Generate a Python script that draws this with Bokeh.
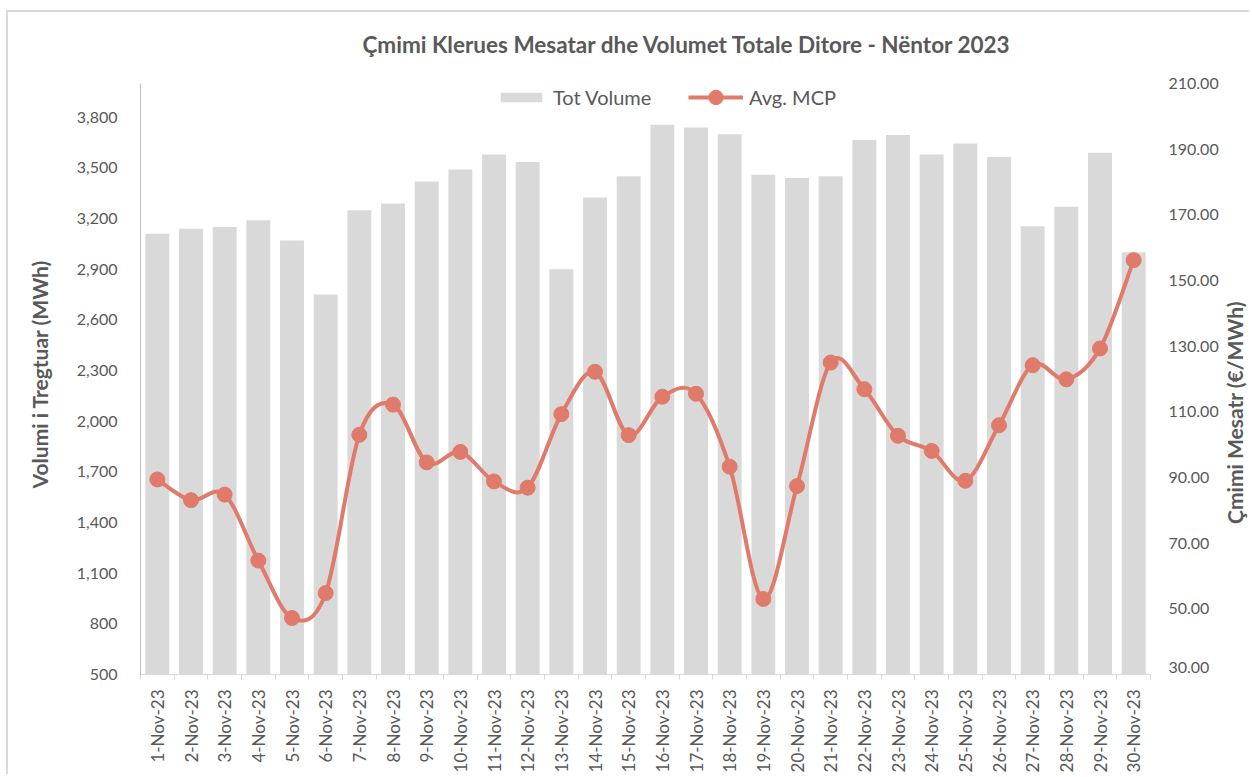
import numpy as np
from bokeh.plotting import figure
from bokeh.models import (Range1d, FixedTicker, Legend, LegendItem,
                          NumeralTickFormatter, Label)
from bokeh.embed import file_html
from bokeh.resources import INLINE

dates = ["1-Nov-23", "2-Nov-23", "3-Nov-23", "4-Nov-23", "5-Nov-23", "6-Nov-23",
         "7-Nov-23", "8-Nov-23", "9-Nov-23", "10-Nov-23", "11-Nov-23", "12-Nov-23",
         "13-Nov-23", "14-Nov-23", "15-Nov-23", "16-Nov-23", "17-Nov-23", "18-Nov-23",
         "19-Nov-23", "20-Nov-23", "21-Nov-23", "22-Nov-23", "23-Nov-23", "24-Nov-23",
         "25-Nov-23", "26-Nov-23", "27-Nov-23", "28-Nov-23", "29-Nov-23", "30-Nov-23"]
volume = [3110, 3140, 3150, 3190, 3070, 2750, 3250, 3290, 3420, 3490,
          3580, 3535, 2900, 3325, 3450, 3755, 3740, 3700, 3460, 3440,
          3450, 3665, 3695, 3580, 3645, 3565, 3155, 3270, 3590, 3000]
price = [89.4, 83.1, 84.8, 64.7, 47.2, 54.8, 103.0, 112.2, 94.6, 97.8,
         88.8, 86.9, 109.3, 122.2, 102.9, 114.6, 115.5, 93.3, 53.0, 87.4,
         125.0, 116.9, 102.7, 98.1, 89.0, 105.9, 124.2, 119.9, 129.3, 156.2]
left_ticks = [500, 800, 1100, 1400, 1700, 2000, 2300, 2600, 2900, 3200, 3500, 3800]
right_ticks = [30, 50, 70, 90, 110, 130, 150, 170, 190, 210]
right_labels = ["30.00", "50.00", "70.00", "90.00", "110.00", "130.00", "150.00",
                "170.00", "190.00", "210.00"]
vol_axis = (500, 4000)
price_axis = (30, 210)

FONT = "Lato"
TXT = "#595959"
BAR = "#d9d9d9"
LINE = "#e07b6b"

n = len(dates)
xs = np.arange(1, n + 1, dtype=float)
pr = np.array(price, dtype=float)

# Catmull-Rom style smoothing (Excel "smoothed line") as bezier segments
pp = np.concatenate([[pr[0]], pr, [pr[-1]]])
xp = np.concatenate([[xs[0]], xs, [xs[-1]]])
x0 = xs[:-1]; y0 = pr[:-1]
x1 = xs[1:]; y1 = pr[1:]
cx0 = xp[1:-2] + (xp[2:-1] - xp[0:-3]) / 6.0
cy0 = pp[1:-2] + (pp[2:-1] - pp[0:-3]) / 6.0
cx1 = xp[2:-1] - (xp[3:] - xp[1:-2]) / 6.0
cy1 = pp[2:-1] - (pp[3:] - pp[1:-2]) / 6.0

# layout: the frame runs to the right edge so the right-hand texts can live in it
W, H = 1243, 764
BL, BR, BT, BB = 132, 0, 61, 102
FW, FH = W - BL - BR, H - BT - BB
axis_px_w = 1010      # width of the category area in px
axis_px_h = 591       # height of the value axes in px
x_end = 0.5 + n * FW / axis_px_w
vol_top = vol_axis[0] + (vol_axis[1] - vol_axis[0]) * FH / axis_px_h
pr_top = price_axis[0] + (price_axis[1] - price_axis[0]) * FH / axis_px_h

p = figure(width=W, height=H, x_range=Range1d(0.5, x_end),
           y_range=Range1d(vol_axis[0], vol_top), output_backend="svg",
           toolbar_location=None,
           min_border_left=BL, min_border_right=BR, min_border_top=BT,
           min_border_bottom=BB)
p.styles = {"border-left": "2px solid #d9d9d9", "border-top": "2px solid #d9d9d9",
            "margin-left": "6px", "margin-top": "10px"}
p.extra_y_ranges = {"price": Range1d(price_axis[0], pr_top)}
p.outline_line_color = None
p.xgrid.grid_line_color = None
p.ygrid.grid_line_color = None
p.background_fill_color = "white"

bars = p.vbar(x=xs, top=volume, bottom=vol_axis[0], width=0.71, fill_color=BAR,
              line_color=None)
curve = p.bezier(x0=x0, y0=y0, x1=x1, y1=y1, cx0=cx0, cy0=cy0, cx1=cx1, cy1=cy1,
                 line_color=LINE, line_width=4, y_range_name="price")
dots = p.scatter(x=xs, y=price, size=15, fill_color=LINE, line_color=LINE,
                 y_range_name="price")

# Title
p.title.text = "Çmimi Klerues Mesatar dhe Volumet Totale Ditore - Nëntor 2023"
p.title.align = "left"
p.title.offset = 222
p.title.text_font = FONT
p.title.text_font_size = "22.5px"
p.title.text_font_style = "bold"
p.title.text_color = TXT
p.title.standoff = 32

# x axis
xa = p.xaxis[0]
xa.bounds = (0.5, n + 0.5)
xa.ticker = FixedTicker(ticks=list(xs), minor_ticks=list(np.arange(0.5, n + 1, 1.0)))
xa.major_label_overrides = {int(v): d for v, d in zip(xs, dates)}
xa.major_label_overrides.update({float(v): d for v, d in zip(xs, dates)})
xa.major_label_orientation = np.pi / 2
xa.major_tick_line_color = None
xa.major_tick_out = 0
xa.minor_tick_line_color = BAR
xa.minor_tick_out = 5
xa.minor_tick_in = 0
xa.axis_line_color = BAR
xa.major_label_standoff = 10
xa.major_label_text_font = FONT
xa.major_label_text_font_size = "17px"
xa.major_label_text_color = TXT

# left axis
ya = p.yaxis[0]
ya.bounds = vol_axis
ya.ticker = FixedTicker(ticks=left_ticks)
ya.formatter = NumeralTickFormatter(format="0,0")
ya.major_tick_line_color = None
ya.minor_tick_line_color = None
ya.major_tick_out = 0
ya.axis_line_color = "#bfbfbf"
ya.major_label_standoff = 23
ya.major_label_text_font = FONT
ya.major_label_text_font_size = "16px"
ya.major_label_text_color = TXT
ya.axis_label = "Volumi i Tregtuar (MWh)"
ya.axis_label_text_font = FONT
ya.axis_label_text_font_size = "21px"
ya.axis_label_text_font_style = "bold"
ya.axis_label_text_color = TXT
ya.axis_label_standoff = 22

# right value labels, drawn on the price scale
p.text(x=[n + 0.5] * (len(right_ticks) - 1), y=right_ticks[1:], text=right_labels[1:],
       x_offset=18, y_range_name="price", text_align="left",
       text_baseline="middle", text_font={"value": FONT},
       text_font_size="16px", text_color=TXT)
# lowest label sits on the bottom edge of the frame: keep it fully visible
p.text(x=[n + 0.5], y=right_ticks[:1], text=right_labels[:1],
       x_offset=18, y_offset=-2, y_range_name="price", text_align="left",
       text_baseline="bottom", text_font={"value": FONT},
       text_font_size="16px", text_color=TXT)

# right axis title, reading bottom-to-top
rtitle = Label(x=1094, y=262, x_units="screen", y_units="screen",
               text="Çmimi Mesatr (€/MWh)", angle=np.pi / 2,
               text_align="center", text_baseline="middle",
               text_font=FONT, text_font_size="21px", text_font_style="bold",
               text_color=TXT)
p.add_layout(rtitle)

leg1 = Legend(items=[LegendItem(label="Tot Volume", renderers=[bars])],
              orientation="horizontal", location=(355, 565),
              glyph_width=52, glyph_height=12)
leg2 = Legend(items=[LegendItem(label="Avg. MCP", renderers=[curve, dots])],
              orientation="horizontal", location=(548, 559),
              glyph_width=55, glyph_height=36)
for lg in (leg1, leg2):
    lg.label_standoff = 6
    lg.padding = 0
    lg.margin = 0
    lg.border_line_color = None
    lg.background_fill_alpha = 0
    lg.label_text_font = FONT
    lg.label_text_font_size = "20px"
    lg.label_text_color = TXT
    p.add_layout(lg, "center")

open("out.html", "w").write(file_html(p, INLINE))
